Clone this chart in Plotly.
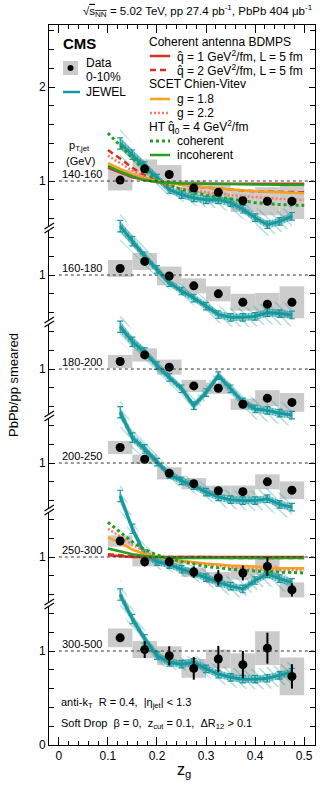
import plotly.graph_objects as go

# ---------------- data ----------------
zg_centers = [0.125, 0.175, 0.225, 0.275, 0.325, 0.375, 0.425, 0.475]
zg_jewel = [0.125, 0.15, 0.175, 0.2, 0.225, 0.25, 0.275, 0.3, 0.325, 0.35, 0.375, 0.4, 0.425, 0.45, 0.475]
zg_theory = [0.1, 0.125, 0.15, 0.175, 0.2, 0.25, 0.3, 0.35, 0.4, 0.45, 0.5]

panel_labels = ["140-160", "160-180", "180-200", "200-250", "250-300", "300-500"]
panel_offsets = [5, 4, 3, 2, 1, 0]

data_140_160 = [1.01, 1.13, 1.07, 0.925, 0.88, 0.79, 0.785, 0.785]
data_160_180 = [1.07, 1.145, 0.99, 0.885, 0.80, 0.71, 0.69, 0.71]
data_180_200 = [1.08, 1.15, 1.02, 0.82, 0.795, 0.625, 0.69, 0.645]
data_200_250 = [1.165, 1.04, 0.89, 0.78, 0.705, 0.695, 0.80, 0.71]
data_250_300 = [1.17, 0.95, 0.95, 0.84, 0.78, 0.83, 0.90, 0.65]
data_300_500 = [1.14, 1.015, 0.95, 0.815, 0.915, 0.855, 1.03, 0.73]

stat_140_160 = [0.02, 0.02, 0.02, 0.02, 0.02, 0.02, 0.02, 0.02]
stat_160_180 = [0.02, 0.02, 0.02, 0.02, 0.02, 0.02, 0.02, 0.02]
stat_180_200 = [0.02, 0.02, 0.02, 0.02, 0.02, 0.02, 0.02, 0.02]
stat_200_250 = [0.02, 0.02, 0.02, 0.02, 0.02, 0.02, 0.02, 0.02]
stat_250_300 = [0.03, 0.05, 0.05, 0.06, 0.08, 0.08, 0.10, 0.07]
stat_300_500 = [0.035, 0.09, 0.10, 0.12, 0.14, 0.145, 0.165, 0.13]

syst_140_160 = [0.11, 0.10, 0.10, 0.08, 0.10, 0.12, 0.15, 0.19]
syst_160_180 = [0.09, 0.09, 0.10, 0.08, 0.08, 0.09, 0.12, 0.17]
syst_180_200 = [0.07, 0.07, 0.08, 0.065, 0.06, 0.06, 0.085, 0.10]
syst_200_250 = [0.07, 0.05, 0.065, 0.06, 0.055, 0.065, 0.08, 0.095]
syst_250_300 = [0.06, 0.05, 0.04, 0.05, 0.06, 0.07, 0.09, 0.08]
syst_300_500 = [0.10, 0.09, 0.10, 0.10, 0.10, 0.12, 0.18, 0.20]

jewel_140_160 = [1.40, 1.28, 1.16, 1.03, 0.91, 0.855, 0.82, 0.80, 0.80, 0.77, 0.70, 0.61, 0.535, 0.57, 0.625]
jewel_160_180 = [1.52, 1.36, 1.20, 1.06, 0.92, 0.83, 0.755, 0.67, 0.58, 0.55, 0.55, 0.56, 0.60, 0.59, 0.575]
jewel_180_200 = [1.45, 1.29, 1.18, 1.035, 0.91, 0.79, 0.61, 0.75, 0.93, 0.79, 0.65, 0.575, 0.56, 0.53, 0.51]
jewel_200_250 = [1.54, 1.27, 1.15, 1.01, 0.88, 0.81, 0.76, 0.69, 0.64, 0.61, 0.60, 0.60, 0.62, 0.56, 0.53]
jewel_250_300 = [1.65, 1.30, 1.03, 0.95, 0.92, 0.87, 0.83, 0.78, 0.73, 0.69, 0.66, 0.75, 0.82, 0.77, 0.73]
jewel_300_500 = [1.60, 1.34, 1.13, 0.95, 0.88, 0.86, 0.88, 0.81, 0.755, 0.72, 0.70, 0.70, 0.71, 0.74, 0.775]

jewel_stat = [0.06, 0.05, 0.045, 0.04, 0.04, 0.04, 0.04, 0.04, 0.04, 0.04, 0.04, 0.04, 0.04, 0.04, 0.04]
jewel_sys = [0.16, 0.12, 0.10, 0.08, 0.07, 0.07, 0.08, 0.08, 0.09, 0.10, 0.10, 0.11, 0.12, 0.12, 0.12]

bdmps_q1_140_160 = [1.14, 1.09, 1.04, 1.01, 0.99, 0.975, 0.97, 0.97, 0.97, 0.97, 0.97]
bdmps_q2_140_160 = [1.33, 1.24, 1.14, 1.06, 1.00, 0.96, 0.93, 0.91, 0.89, 0.885, 0.88]
scet_g18_140_160 = [1.19, 1.13, 1.07, 1.03, 1.00, 0.96, 0.93, 0.91, 0.89, 0.88, 0.87]
scet_g22_140_160 = [1.27, 1.19, 1.11, 1.04, 0.98, 0.92, 0.88, 0.85, 0.83, 0.81, 0.80]
ht_coh_140_160 = [1.51, 1.38, 1.24, 1.11, 1.00, 0.91, 0.85, 0.81, 0.77, 0.75, 0.74]
ht_incoh_140_160 = [1.16, 1.10, 1.05, 1.01, 0.99, 0.975, 0.97, 0.965, 0.96, 0.96, 0.96]

bdmps_q1_250_300 = [1.02, 1.01, 1.00, 1.00, 1.00, 1.00, 1.00, 1.00, 1.00, 1.00, 1.00]
bdmps_q2_250_300 = [1.03, 1.02, 1.01, 1.00, 1.00, 1.00, 1.00, 0.99, 0.99, 0.99, 0.99]
scet_g18_250_300 = [1.21, 1.15, 1.08, 1.03, 1.00, 0.96, 0.93, 0.91, 0.90, 0.88, 0.88]
scet_g22_250_300 = [1.30, 1.22, 1.13, 1.06, 1.01, 0.95, 0.92, 0.89, 0.87, 0.86, 0.86]
ht_coh_250_300 = [1.37, 1.27, 1.16, 1.08, 1.02, 0.95, 0.90, 0.87, 0.85, 0.84, 0.83]
ht_incoh_250_300 = [1.09, 1.06, 1.03, 1.01, 1.00, 0.99, 0.99, 0.99, 0.99, 0.99, 0.99]

y_tickvals = [0, 1, 2, 3, 4, 5, 6, 7]
y_ticktext = ["0", "1", "1", "1", "1", "1", "1", "2"]

# ---------------- style ----------------
FONT = "Liberation Sans, Arial, Helvetica, sans-serif"
RED = "#d7301f"
ORANGE = "#ffa01a"
SALMON = "#ff7a5c"
GREEN = "#22a022"
TEAL = "#17989e"
GRAY = "#cbcbcb"

L, R, T, B = 49, 315, 25, 745
W, H = 332, 785


def px_x(px):
    return (px - L) / (R - L)


def px_y(py):
    return (B - py) / (B - T)


data_sets = [data_140_160, data_160_180, data_180_200, data_200_250, data_250_300, data_300_500]
stat_sets = [stat_140_160, stat_160_180, stat_180_200, stat_200_250, stat_250_300, stat_300_500]
syst_sets = [syst_140_160, syst_160_180, syst_180_200, syst_200_250, syst_250_300, syst_300_500]
jewel_sets = [jewel_140_160, jewel_160_180, jewel_180_200, jewel_200_250, jewel_250_300, jewel_300_500]

theory_sets = {
    0: [bdmps_q1_140_160, bdmps_q2_140_160, scet_g18_140_160, scet_g22_140_160, ht_coh_140_160, ht_incoh_140_160],
    4: [bdmps_q1_250_300, bdmps_q2_250_300, scet_g18_250_300, scet_g22_250_300, ht_coh_250_300, ht_incoh_250_300],
}
theory_styles = [
    dict(color=RED, width=2.5, dash="solid"),
    dict(color=RED, width=2.5, dash="6px,4px"),
    dict(color=ORANGE, width=2.5, dash="solid"),
    dict(color=SALMON, width=2.5, dash="2px,2px"),
    dict(color=GREEN, width=3, dash="3px,3px"),
    dict(color=GREEN, width=2.5, dash="solid"),
]

fig = go.Figure()

# systematic boxes
for i, off in enumerate(panel_offsets):
    vals, syst = data_sets[i], syst_sets[i]
    fig.add_trace(go.Bar(
        x=zg_centers, y=[2 * s for s in syst], base=[v - s + off for v, s in zip(vals, syst)],
        width=0.05, marker=dict(color=GRAY, line=dict(width=0)), showlegend=False, hoverinfo="skip"))

# JEWEL
for i, off in enumerate(panel_offsets):
    jv = jewel_sets[i]
    up = [v + s + off for v, s in zip(jv, jewel_sys)]
    lo = [v - s + off for v, s in zip(jv, jewel_sys)]
    fig.add_trace(go.Scatter(x=zg_jewel, y=up, mode="lines", line=dict(width=0), showlegend=False, hoverinfo="skip"))
    fig.add_trace(go.Scatter(x=zg_jewel, y=lo, mode="lines", line=dict(width=0), fill="tonexty",
                             fillcolor="rgba(0,0,0,0)",
                             fillpattern=dict(shape="\\", fgcolor="rgba(23,152,158,0.85)", bgcolor="rgba(0,0,0,0)",
                                              size=6, solidity=0.2),
                             showlegend=False, hoverinfo="skip"))
    up2 = [v + s + off for v, s in zip(jv, jewel_stat)]
    lo2 = [v - s + off for v, s in zip(jv, jewel_stat)]
    fig.add_trace(go.Scatter(x=zg_jewel, y=up2, mode="lines", line=dict(width=0), showlegend=False, hoverinfo="skip"))
    fig.add_trace(go.Scatter(x=zg_jewel, y=lo2, mode="lines", line=dict(width=0), fill="tonexty",
                             fillcolor="rgba(23,152,158,0.5)",
                             fillpattern=dict(shape="|", fgcolor="rgba(23,152,158,1)", bgcolor="rgba(23,152,158,0.45)",
                                              size=3, solidity=0.4),
                             showlegend=False, hoverinfo="skip"))
    fig.add_trace(go.Scatter(x=zg_jewel, y=[v + off for v in jv], mode="lines+markers",
                             line=dict(color=TEAL, width=3),
                             marker=dict(size=1, color=TEAL),
                             error_y=dict(type="data", array=jewel_stat, color=TEAL, thickness=1.2, width=3),
                             showlegend=False, hoverinfo="skip"))

# theory curves
for i, curves in theory_sets.items():
    off = panel_offsets[i]
    for vals, st in zip(curves, theory_styles):
        fig.add_trace(go.Scatter(x=zg_theory, y=[v + off for v in vals], mode="lines",
                                 line=st, showlegend=False, hoverinfo="skip"))

# data points
for i, off in enumerate(panel_offsets):
    fig.add_trace(go.Scatter(
        x=zg_centers, y=[v + off for v in data_sets[i]], mode="markers",
        marker=dict(color="black", size=9),
        error_y=dict(type="data", array=stat_sets[i], color="black", thickness=2, width=0),
        showlegend=False, hoverinfo="skip"))

shapes = []
annotations = []

# reference dashed lines and panel labels
for lab, off in zip(panel_labels, panel_offsets):
    shapes.append(dict(type="line", xref="x", yref="y", x0=0.0, x1=0.522, y0=off + 1, y1=off + 1,
                       line=dict(color="#333333", width=1, dash="3px,3px"), layer="above"))
    annotations.append(dict(x=px_x(60), xref="paper", y=off + 1 + 0.075, yref="y", text=lab,
                            showarrow=False, xanchor="left", yanchor="middle",
                            font=dict(family=FONT, size=11, color="black")))

# axis breaks
for b in [1.5, 2.5, 3.5, 4.5, 5.5]:
    shapes.append(dict(type="rect", xref="paper", yref="y", x0=px_x(46), x1=px_x(52.5),
                       y0=b - 2.2 / 94, y1=b + 2.2 / 94, fillcolor="white", line=dict(width=0), layer="above"))
    for d in (-2.0, 2.0):
        shapes.append(dict(type="line", xref="paper", yref="y", x0=px_x(44.5), x1=px_x(54),
                           y0=b + (d - 3) / 94, y1=b + (d + 3) / 94,
                           line=dict(color="black", width=1.2), layer="above"))


# legend
def txt(px, py, s, size=12, anchor="left"):
    annotations.append(dict(x=px_x(px), y=px_y(py), xref="paper", yref="paper", text=s,
                            showarrow=False, xanchor=anchor, yanchor="middle",
                            font=dict(family=FONT, size=size, color="black")))


def lline(py, st, x0=150, x1=170):
    shapes.append(dict(type="line", xref="paper", yref="paper", x0=px_x(x0), x1=px_x(x1),
                       y0=px_y(py), y1=px_y(py), line=st, layer="above"))


txt(61, 43, "<b>CMS</b>", size=15)
shapes.append(dict(type="rect", xref="paper", yref="paper", x0=px_x(63), x1=px_x(78),
                   y0=px_y(75), y1=px_y(61), fillcolor=GRAY, line=dict(width=0), layer="above"))
shapes.append(dict(type="circle", xref="paper", yref="paper", x0=px_x(67.5), x1=px_x(73.5),
                   y0=px_y(71), y1=px_y(65), fillcolor="black", line=dict(width=0), layer="above"))
txt(84, 63, "Data")
txt(84, 77, "0-10%")
lline(92, dict(color=TEAL, width=2.5), 63, 80)
txt(84, 92, "JEWEL")

txt(147, 42, "Coherent antenna BDMPS")
lline(56, theory_styles[0])
txt(175, 56, "q\u0302 = 1 GeV<sup>2</sup>/fm, L = 5 fm")
lline(70, theory_styles[1])
txt(175, 70, "q\u0302 = 2 GeV<sup>2</sup>/fm, L = 5 fm")
txt(147, 84, "SCET Chien-Vitev")
lline(99, theory_styles[2])
txt(175, 99, "g = 1.8")
lline(113, theory_styles[3])
txt(175, 113, "g = 2.2")
txt(147, 127, "HT q\u0302<sub>0</sub> = 4 GeV<sup>2</sup>/fm")
lline(141, theory_styles[4])
txt(175, 141, "coherent")
lline(155, theory_styles[5])
txt(175, 155, "incoherent")

txt(67, 146, "p<sub>T,jet</sub>", size=11)
txt(64, 161, "(GeV)", size=11)

txt(59, 703, "anti-k<sub>T</sub>  R = 0.4,  |\u03b7<sub>jet</sub>| < 1.3", size=11)
txt(59, 724, "Soft Drop  \u03b2 = 0,  z<sub>cut</sub> = 0.1,  \u0394R<sub>12</sub> > 0.1", size=11)

# top label, axis titles
annotations.append(dict(x=1.0, y=px_y(11), xref="paper", yref="paper",
                        text="\u221a<span style='text-decoration:overline'>s<sub>NN</sub></span> = 5.02 TeV, pp 27.4 pb<sup>-1</sup>, PbPb 404 \u03bcb<sup>-1</sup>",
                        showarrow=False, xanchor="right", yanchor="middle",
                        font=dict(family=FONT, size=11.5, color="black")))
annotations.append(dict(x=px_x(13), y=px_y(385), xref="paper", yref="paper", text="PbPb/pp smeared",
                        textangle=-90, showarrow=False, xanchor="center", yanchor="middle",
                        font=dict(family=FONT, size=13, color="black")))
annotations.append(dict(x=px_x(184), y=px_y(770), xref="paper", yref="paper", text="z<sub>g</sub>",
                        showarrow=False, xanchor="center", yanchor="middle",
                        font=dict(family=FONT, size=16, color="black")))

fig.update_layout(
    width=W, height=H,
    margin=dict(l=L, r=W - R, t=T, b=H - B, pad=0),
    paper_bgcolor="white", plot_bgcolor="white",
    barmode="overlay", showlegend=False,
    shapes=shapes, annotations=annotations,
    font=dict(family=FONT, size=12, color="black"),
)
fig.update_xaxes(range=[-0.02, 0.522], tick0=0, dtick=0.1, ticks="inside", ticklen=8, tickwidth=1,
                 tickcolor="black", showline=True, linecolor="black", linewidth=1, mirror="allticks",
                 showgrid=False, zeroline=False, tickfont=dict(family=FONT, size=12, color="black"),
                 minor=dict(dtick=0.02, tick0=0, ticks="inside", ticklen=4, tickcolor="black", showgrid=False))
fig.update_yaxes(range=[0, 7.66], tickvals=y_tickvals, ticktext=y_ticktext, ticks="inside", ticklen=6,
                 tickwidth=1, tickcolor="black", showline=True, linecolor="black", linewidth=1,
                 mirror="allticks", showgrid=False, zeroline=False,
                 tickfont=dict(family=FONT, size=12, color="black"),
                 minor=dict(dtick=0.2, tick0=0, ticks="inside", ticklen=5, tickcolor="black", showgrid=False))

fig.write_html("out.html", config={"displayModeBar": False},
               post_script="document.body.style.margin='0';document.body.style.overflow='hidden';")
